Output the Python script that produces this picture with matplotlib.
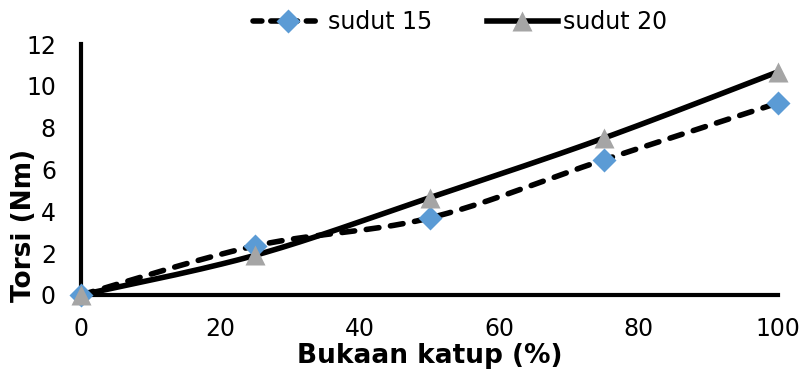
import numpy as np
import matplotlib
matplotlib.use("Agg")
import matplotlib.pyplot as plt
from matplotlib.lines import Line2D

x_vals = [0, 25, 50, 75, 100]
sudut15 = [0, 2.35, 3.68, 6.46, 9.18]
sudut20 = [0, 1.9, 4.65, 7.5, 10.67]
labels = ["sudut 15", "sudut 20"]
xticks = [0, 20, 40, 60, 80, 100]
yticks = [0, 2, 4, 6, 8, 10, 12]

def smooth(xs, ys, n=40):
    xs = np.asarray(xs, float); ys = np.asarray(ys, float)
    px = np.concatenate([[xs[0]], xs, [xs[-1]]])
    py = np.concatenate([[ys[0]], ys, [ys[-1]]])
    ox, oy = [], []
    t = np.linspace(0, 1, n)
    for i in range(1, len(px) - 2):
        p0 = np.array([px[i], py[i]]); p3 = np.array([px[i+1], py[i+1]])
        p1 = p0 + (np.array([px[i+1], py[i+1]]) - np.array([px[i-1], py[i-1]])) / 6
        p2 = p3 - (np.array([px[i+2], py[i+2]]) - np.array([px[i], py[i]])) / 6
        b = ((1-t)**3)[:, None]*p0 + (3*(1-t)**2*t)[:, None]*p1 + (3*(1-t)*t**2)[:, None]*p2 + (t**3)[:, None]*p3
        ox.extend(b[:, 0]); oy.extend(b[:, 1])
    return np.array(ox), np.array(oy)

fig = plt.figure(figsize=(8.06, 3.71), dpi=100)
ax = fig.add_axes([81/806, 1-295/371, 697/806, 251/371])

LW = 4.0
sx, sy = smooth(x_vals, sudut15)
ax.plot(sx, sy, color="black", lw=LW, ls=(0, (2.3, 2.1)), dash_capstyle="round",
        zorder=3, clip_on=False)
sx2, sy2 = smooth(x_vals, sudut20)
ax.plot(sx2, sy2, color="black", lw=LW, zorder=3, clip_on=False)
ax.plot(x_vals, sudut15, ls="none", marker="D", ms=12, color="#5B9BD5", mec="none",
        zorder=4, clip_on=False)
ax.plot(x_vals, sudut20, ls="none", marker="^", ms=15, color="#A5A5A5", mec="none",
        zorder=5, clip_on=False)

ax.set_xlim(0, 100)
ax.set_ylim(0, 12)
ax.set_xticks(xticks)
ax.set_yticks(yticks)
ax.tick_params(length=0, labelsize=17)
ax.tick_params(axis="x", pad=15.5)
ax.tick_params(axis="y", pad=18)
for s in ["top", "right"]:
    ax.spines[s].set_visible(False)
for s in ["left", "bottom"]:
    ax.spines[s].set_linewidth(3)

ax.set_xlabel("Bukaan katup (%)", fontsize=19, fontweight="bold")
ax.xaxis.set_label_coords(0.5007, -0.243)
ax.xaxis.label.set_va("center")
ax.set_ylabel("Torsi (Nm)", fontsize=19, fontweight="bold")
ax.yaxis.set_label_coords(-0.0818, 0.279)
ax.yaxis.label.set_va("center")

h1 = Line2D([], [], color="black", lw=LW, ls=(0, (1.6, 1.6)), dash_capstyle="round",
            marker="D", ms=12, mfc="#5B9BD5", mec="none")
h2 = Line2D([], [], color="black", lw=LW, marker="^", ms=15, mfc="#A5A5A5", mec="none")
fig.legend([h1, h2], labels, loc="center", bbox_to_anchor=(0.5705, 0.941), ncol=2,
           frameon=False, fontsize=17, handlelength=3.0, handletextpad=0.2,
           columnspacing=2.3, borderpad=0)

fig.savefig("out.png", dpi=100)
